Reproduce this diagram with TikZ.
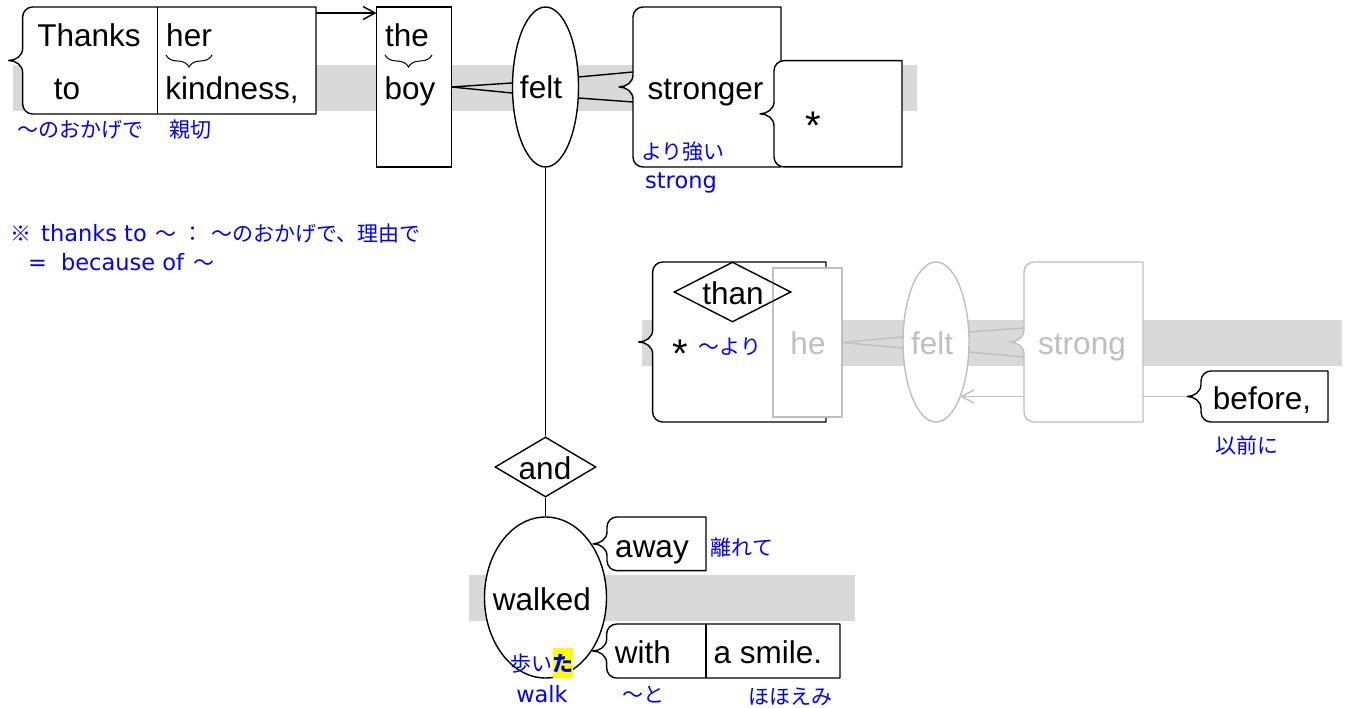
\documentclass[tikz,border=0pt]{standalone}
\usepackage{fontspec}
\setmainfont{Liberation Sans}
\newfontfamily\jpfont{Noto Sans CJK JP}
\newfontfamily\latfont{DejaVu Sans}
\usetikzlibrary{shapes.geometric,arrows.meta,decorations.pathreplacing,calc}
\definecolor{band}{HTML}{D9D9D9}
\definecolor{lgray}{HTML}{BFBFBF}
\definecolor{jblue}{HTML}{0000FF}
\definecolor{hl}{HTML}{FFFF00}
\newcommand\WordFont{\fontsize{31.5}{36}\selectfont}
\newcommand\JpFont{\jpfont\fontsize{21}{24}\selectfont}
\newcommand\LatFont{\latfont\fontsize{22.5}{26}\selectfont}
\newcommand\bracebox[2][black]{%
 \draw[#1, line width=1.4pt, fill=white, line join=round] (#2.north east) -- ([xshift=10pt]#2.north west) to[out=180,in=90] ([yshift=-10pt]#2.north west) -- ([yshift=12pt]#2.west) to[out=-90,in=0] ([xshift=-14pt]#2.west) to[out=0,in=90] ([yshift=-12pt]#2.west) -- ([yshift=10pt]#2.south west) to[out=-90,in=180] ([xshift=10pt]#2.south west) -- (#2.south east) -- cycle;}
\tikzset{
 boxframe/.style={rectangle, inner sep=0pt, outer sep=0pt},
 lw/.style={line width=1.4pt},
 conn/.style={lw, draw=black},
 gconn/.style={lw, draw=lgray},
 word/.style={font=\WordFont, inner sep=0pt, anchor=base},
 gword/.style={word, text=lgray},
 astk/.style={font=\fontsize{40}{40}\selectfont, inner sep=0pt, anchor=base},
 jp/.style={font=\JpFont, text=jblue, inner sep=0pt},
 lat/.style={font=\LatFont, text=jblue, inner sep=0pt},
 ubrace/.style={line width=1pt, decorate, decoration={brace, amplitude=12pt}},
 barb/.style={-{Straight Barb[length=12pt,width=13pt]}},
}
\begin{document}
\begin{tikzpicture}[x=1pt,y=1pt]
\useasboundingbox (0,0) rectangle (1349,-708);
% bands
\fill[band] (12.7,-65) rectangle (917,-110.7);
\fill[band] (642,-320) rectangle (1342,-366);
\fill[band] (469,-575) rectangle (855,-621);
% boxes
\node[boxframe, minimum width=293.3pt, minimum height=107pt] (tk) at (169.3,-60.5) {};
\bracebox{tk}
\draw[lw] ($(tk.north west)+(134.6,0)$) coordinate (tkd1) -- (tkd1 |- tk.south);
\node[boxframe, lw, draw, fill=white, minimum width=75pt, minimum height=160pt] (boy) at (414,-87) {};
\node[ellipse, lw, draw, fill=white, inner sep=0pt, minimum width=66pt, minimum height=160pt] (felt) at (545.5,-87) {};
\node[boxframe, minimum width=148pt, minimum height=160pt] (str) at (707,-87) {};
\bracebox{str}
\node[boxframe, minimum width=128pt, minimum height=106.3pt] (starbox) at (838,-113.8) {};
\bracebox{starbox}
\node[boxframe, minimum width=173.3pt, minimum height=160pt] (thanbox) at (739.3,-342) {};
\bracebox{thanbox}
\node[boxframe, lw, draw=lgray, fill=white, minimum width=69pt, minimum height=149pt] (he) at (807.5,-342.5) {};
\node[diamond, lw, draw, inner sep=0pt, minimum width=117pt, minimum height=60pt] (than) at (732.5,-292) {};
\node[ellipse, lw, draw=lgray, fill=white, inner sep=0pt, minimum width=66pt, minimum height=160pt] (felt2) at (936,-342) {};
\node[boxframe, minimum width=119pt, minimum height=160pt] (strong2) at (1083.5,-342) {};
\bracebox[lgray]{strong2}
\node[boxframe, minimum width=127pt, minimum height=51pt] (bf) at (1264.5,-396.5) {};
\bracebox{bf}
\node[diamond, lw, draw, fill=white, inner sep=0pt, minimum width=101pt, minimum height=60pt] (and) at (545.5,-467) {};
\node[ellipse, lw, draw, fill=white, inner sep=0pt, minimum width=122pt, minimum height=161pt] (walked) at (545.5,-597.5) {};
\node[boxframe, minimum width=99pt, minimum height=53.7pt] (away) at (656.5,-543.8) {};
\bracebox{away}
\node[boxframe, minimum width=233.3pt, minimum height=54pt] (with) at (723.3,-651) {};
\bracebox{with}
\draw[lw] ($(with.north west)+(99.3,0)$) coordinate (wd1) -- (wd1 |- with.south);
% connectors
\draw[conn, barb] ([yshift=-6pt]tk.north east) -- ([yshift=-6pt]boy.north west);
\draw[conn] (boy.east) -- ([yshift=4pt]felt.west);
\draw[conn] (boy.east) -- ([yshift=-6pt]felt.west);
\draw[conn] ($(felt.east)+(-1,10)$) -- ($(str.west)+(0,15)$);
\draw[conn] ($(felt.east)+(-1,-11)$) -- ($(str.west)+(0,-15)$);
\draw[conn] (felt.south) -- (and.north);
\draw[conn] (and.south) -- (walked.north);
\draw[gconn] (he.east) -- ([yshift=5pt]felt2.west);
\draw[gconn] (he.east) -- ([yshift=-6pt]felt2.west);
\draw[gconn] ($(felt2.east)+(-1,10)$) -- ($(strong2.west)+(0,14)$);
\draw[gconn] ($(felt2.east)+(-1,-10)$) -- ($(strong2.west)+(0,-15)$);
\draw[gconn, barb] ($(strong2.west)+(0,-54.5)$) -- ($(felt2.center)+(24.3,-54.5)$);
\draw[gconn] ([xshift=-14pt]bf.west) -- (strong2.east |- bf.west);
% under braces
\draw[ubrace] (212,-55) -- (166,-55);
\draw[ubrace] (432,-55) -- (385,-55);
% highlight
\fill[hl] (553,-648) rectangle (573,-678);
% words
\node[word] (w-thanks) at (89,-47) {Thanks};
\node[word] (w-to) at (67,-100) {to};
\node[word] (w-her) at (189,-47) {her};
\node[word] (w-kind) at (232,-100) {kindness,};
\node[word] (w-the) at (407,-47) {the};
\node[word] (w-boy) at (410,-100) {boy};
\node[word] (w-felt) at (541,-99) {felt};
\node[word] (w-str) at (705.5,-100) {stronger};
\node[astk] (w-ast1) at (813,-140) {*};
\node[word] (w-than) at (733,-305) {than};
\node[astk] (w-ast2) at (680,-368) {*};
\node[gword] (w-he) at (808,-355) {he};
\node[gword] (w-felt2) at (932,-355) {felt};
\node[gword] (w-strong) at (1082,-355) {strong};
\node[word] (w-before) at (1262,-409) {before,};
\node[word] (w-and) at (545,-479) {and};
\node[word] (w-walked) at (542,-610) {walked};
\node[word] (w-away) at (652,-557) {away};
\node[word] (w-with) at (643,-663) {with};
\node[word] (w-smile) at (768,-663) {a smile.};
% blue glosses
\node[jp] (j1) at (80,-130) {〜のおかげで};
\node[jp] (j2) at (190,-130) {親切};
\node[jp] (j3) at (683,-152) {より強い};
\node[lat, anchor=base] (l1) at (681,-189) {strong};
\node[jp] (j4) at (730,-347) {〜より};
\node[jp] (j5) at (1247,-445) {以前に};
\node[jp] (j6) at (742,-548) {離れて};
\node[jp] (j7) at (542,-664) {歩い{\bfseries た}};
\node[lat, anchor=base] (l2) at (542,-702) {walk};
\node[jp] (j8) at (643,-695) {〜と};
\node[jp] (j9) at (790,-697) {ほほえみ};
\node[lat, anchor=base west] (n1) at (10,-242) {{\JpFont ※}\hspace{10pt}thanks to\hspace{9pt}{\JpFont 〜}\hspace{6pt}{\JpFont ：}\hspace{8pt}{\JpFont 〜のおかげで、理由で}};
\node[lat, anchor=base west] (n2) at (28,-271) {=\hspace{14pt}because of\hspace{9pt}{\JpFont 〜}};
\end{tikzpicture}
\end{document}
